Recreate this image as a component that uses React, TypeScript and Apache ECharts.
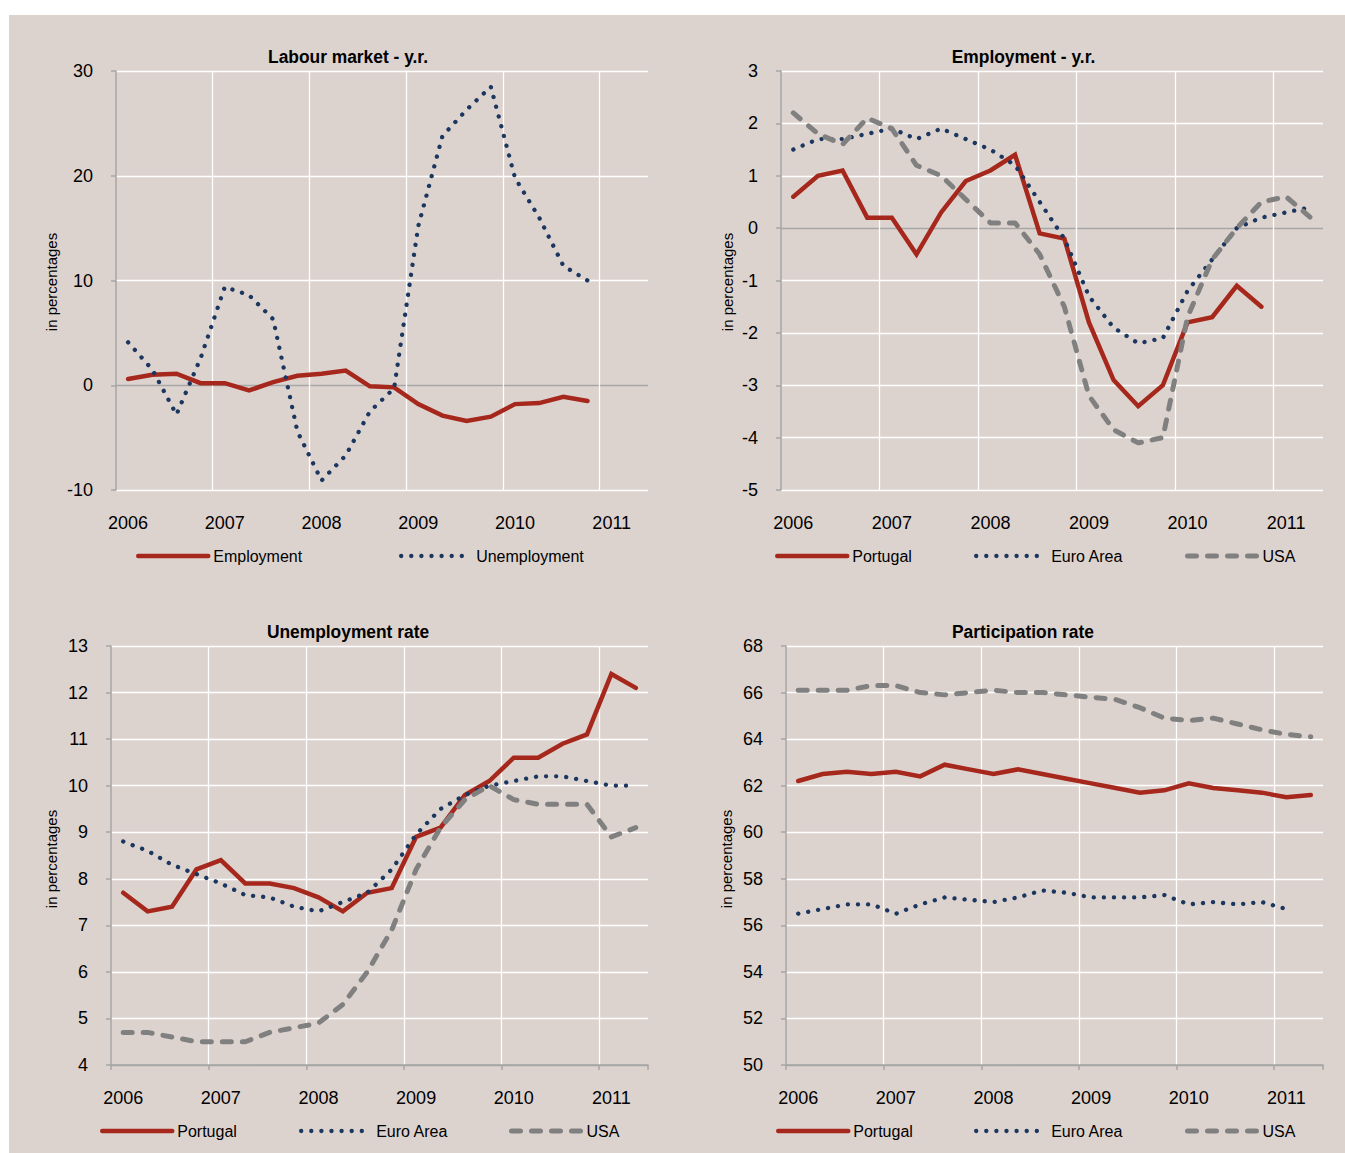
import React, { useEffect, useRef } from "react";
import * as echarts from "echarts";

// ---------- data ----------
const CATEGORIES = [
  "2006 Q1", "2006 Q2", "2006 Q3", "2006 Q4",
  "2007 Q1", "2007 Q2", "2007 Q3", "2007 Q4",
  "2008 Q1", "2008 Q2", "2008 Q3", "2008 Q4",
  "2009 Q1", "2009 Q2", "2009 Q3", "2009 Q4",
  "2010 Q1", "2010 Q2", "2010 Q3", "2010 Q4",
  "2011 Q1", "2011 Q2",
];

const PANEL_TITLES = ["Labour market - y.r.", "Employment - y.r.", "Unemployment rate", "Participation rate"];
const Y_NAME = "in percentages";

// Labour market - y.r.
const LM_EMPLOYMENT = [0.6, 1.0, 1.1, 0.2, 0.2, -0.5, 0.3, 0.9, 1.1, 1.4, -0.1, -0.2, -1.8, -2.9, -3.4, -3.0, -1.8, -1.7, -1.1, -1.5];
const LM_UNEMPLOYMENT = [4.1, 1.5, -2.8, 2.6, 9.4, 8.6, 6.3, -4.4, -9.1, -6.7, -2.5, -0.3, 15.2, 23.8, 26.3, 28.5, 19.8, 16.0, 11.4, 10.0];

// Employment - y.r.
const EMP_PORTUGAL = [0.6, 1.0, 1.1, 0.2, 0.2, -0.5, 0.3, 0.9, 1.1, 1.4, -0.1, -0.2, -1.8, -2.9, -3.4, -3.0, -1.8, -1.7, -1.1, -1.5];
const EMP_EURO = [1.5, 1.7, 1.7, 1.8, 1.9, 1.7, 1.9, 1.7, 1.5, 1.2, 0.5, -0.2, -1.3, -1.9, -2.2, -2.1, -1.2, -0.6, 0.0, 0.2, 0.3, 0.4];
const EMP_USA = [2.2, 1.8, 1.6, 2.1, 1.9, 1.2, 1.0, 0.55, 0.1, 0.1, -0.5, -1.5, -3.2, -3.85, -4.1, -4.0, -1.7, -0.6, 0.0, 0.5, 0.6, 0.2];

// Unemployment rate
const UR_PORTUGAL = [7.7, 7.3, 7.4, 8.2, 8.4, 7.9, 7.9, 7.8, 7.6, 7.3, 7.7, 7.8, 8.9, 9.1, 9.8, 10.1, 10.6, 10.6, 10.9, 11.1, 12.4, 12.1];
const UR_EURO = [8.8, 8.6, 8.3, 8.1, 7.9, 7.65, 7.6, 7.4, 7.3, 7.5, 7.7, 8.2, 8.95, 9.5, 9.8, 10.0, 10.1, 10.2, 10.2, 10.1, 10.0, 10.0];
const UR_USA = [4.7, 4.7, 4.6, 4.5, 4.5, 4.5, 4.7, 4.8, 4.9, 5.3, 6.0, 6.9, 8.2, 9.1, 9.7, 10.0, 9.7, 9.6, 9.6, 9.6, 8.9, 9.1];

// Participation rate
const PR_PORTUGAL = [62.2, 62.5, 62.6, 62.5, 62.6, 62.4, 62.9, 62.7, 62.5, 62.7, 62.5, 62.3, 62.1, 61.9, 61.7, 61.8, 62.1, 61.9, 61.8, 61.7, 61.5, 61.6];
const PR_EURO = [56.5, 56.7, 56.9, 56.9, 56.5, 56.9, 57.2, 57.1, 57.0, 57.2, 57.5, 57.4, 57.2, 57.2, 57.2, 57.3, 56.9, 57.0, 56.9, 57.0, 56.7];
const PR_USA = [66.1, 66.1, 66.1, 66.3, 66.3, 66.0, 65.9, 66.0, 66.1, 66.0, 66.0, 65.9, 65.8, 65.7, 65.35, 64.9, 64.8, 64.9, 64.65, 64.4, 64.2, 64.1];

// ---------- styles ----------
const FONT = '"Liberation Sans", Arial, Helvetica, sans-serif';
const RED = "#A6281D";
const NAVY = "#1B365F";
const GRAY = "#808080";
const AXIS = "#A6A6A6";
const BG = "#DDD3CE";
const WHITE = "#FFFFFF";
const NONE = "rgba(0,0,0,0)";

const SOLID = { color: RED, width: 4.5, type: "solid" as const, cap: "round" as const, join: "miter" as const };
const DOTTED = { color: NAVY, width: 4.3, type: [0.1, 10], cap: "round" as const, join: "round" as const };
const DASHED = { color: GRAY, width: 5, type: [9, 11], cap: "round" as const, join: "round" as const };

const GRIDS = [
  { left: 116, top: 71, width: 532, height: 419 },
  { left: 781, top: 71, width: 542, height: 419 },
  { left: 111, top: 646, width: 537, height: 419 },
  { left: 786, top: 646, width: 537, height: 419 },
];

function xAxis(gridIndex: number, showLine: boolean) {
  return {
    type: "category",
    gridIndex,
    data: CATEGORIES,
    boundaryGap: true,
    position: "bottom",
    axisLine: { show: showLine, onZero: false, lineStyle: { color: AXIS, width: 1.5 } },
    axisTick: { show: showLine, interval: 3, length: 5, inside: false, lineStyle: { color: AXIS, width: 1.5 } },
    axisLabel: {
      interval: 3,
      formatter: (v: string) => v.slice(0, 4),
      fontSize: 18,
      color: "#000",
      fontFamily: FONT,
      margin: 24,
    },
    splitLine: {
      show: true,
      interval: 3,
      lineStyle: { color: [NONE, WHITE, WHITE, WHITE, WHITE, WHITE, NONE], width: 1.3 },
    },
  };
}

function yAxis(gridIndex: number, min: number, max: number, interval: number, colors: string[]) {
  return {
    type: "value",
    gridIndex,
    min,
    max,
    interval,
    axisLine: { show: true, onZero: false, lineStyle: { color: AXIS, width: 1.5 } },
    axisTick: { show: true, length: 5, inside: false, lineStyle: { color: AXIS, width: 1.5 } },
    axisLabel: { fontSize: 18, color: "#000", fontFamily: FONT, margin: 23 },
    splitLine: { show: true, lineStyle: { color: colors, width: 1.3 } },
  };
}

function line(name: string, idx: number, data: number[], style: any) {
  return {
    type: "line",
    name,
    xAxisIndex: idx,
    yAxisIndex: idx,
    data,
    symbol: "none",
    showSymbol: false,
    lineStyle: style,
    itemStyle: { color: style.color },
    silent: true,
    emphasis: { disabled: true },
    animation: false,
  };
}

function legendItem(name: string, left: number, top: number, style: any) {
  return {
    show: true,
    data: [name],
    left,
    top,
    padding: 0,
    itemWidth: 70,
    itemHeight: 14,
    itemGap: 0,
    selectedMode: false,
    textStyle: { fontSize: 16, color: "#000", fontFamily: FONT },
    itemStyle: { opacity: 0, borderWidth: 0 },
    lineStyle: { width: style.width, type: style.type, cap: style.cap, color: style.color },
  };
}

function title(text: string, x: number, y: number) {
  return {
    type: "text",
    x,
    y,
    scaleX: 0.94,
    silent: true,
    style: {
      text,
      font: `bold 18.5px ${FONT}`,
      fill: "#000",
      textAlign: "center",
      textVerticalAlign: "middle",
      align: "center",
      verticalAlign: "middle",
    },
  };
}

function yName(x: number, y: number) {
  return {
    type: "text",
    x,
    y,
    rotation: Math.PI / 2,
    silent: true,
    style: {
      text: Y_NAME,
      font: `15px ${FONT}`,
      fill: "#000",
      textAlign: "center",
      textVerticalAlign: "middle",
      align: "center",
      verticalAlign: "middle",
    },
  };
}

const W = (n: number) => Array.from({ length: n }, () => WHITE);

export default function App() {
  const ref = useRef<HTMLDivElement>(null);

  useEffect(() => {
    if (!ref.current) return;
    const chart = echarts.init(ref.current, null, { renderer: "svg" });
    const p1Colors = [WHITE, AXIS, WHITE, WHITE, WHITE];
    const p2Colors = [WHITE, WHITE, WHITE, WHITE, WHITE, AXIS, WHITE, WHITE, WHITE];
    const p34Colors = [AXIS, ...W(9)];

    chart.setOption({
      animation: false,
      backgroundColor: "transparent",
      textStyle: { fontFamily: FONT },
      grid: GRIDS.map((g) => ({ ...g, containLabel: false })),
      xAxis: [xAxis(0, false), xAxis(1, false), xAxis(2, true), xAxis(3, true)],
      yAxis: [
        yAxis(0, -10, 30, 10, p1Colors),
        yAxis(1, -5, 3, 1, p2Colors),
        yAxis(2, 4, 13, 1, p34Colors),
        yAxis(3, 50, 68, 2, p34Colors),
      ],
      series: [
        line("Employment", 0, LM_EMPLOYMENT, SOLID),
        line("Unemployment", 0, LM_UNEMPLOYMENT, DOTTED),
        line("Portugal", 1, EMP_PORTUGAL, SOLID),
        line("Euro Area", 1, EMP_EURO, DOTTED),
        line("USA", 1, EMP_USA, DASHED),
        line("Portugal", 2, UR_PORTUGAL, SOLID),
        line("Euro Area", 2, UR_EURO, DOTTED),
        line("USA", 2, UR_USA, DASHED),
        line("Portugal", 3, PR_PORTUGAL, SOLID),
        line("Euro Area", 3, PR_EURO, DOTTED),
        line("USA", 3, PR_USA, DASHED),
      ],
      legend: [
        legendItem("Employment", 136, 548, SOLID),
        legendItem("Unemployment", 399, 548, DOTTED),
        legendItem("Portugal", 775, 548, SOLID),
        legendItem("Euro Area", 974, 548, DOTTED),
        legendItem("USA", 1185, 548, DASHED),
        legendItem("Portugal", 100, 1123, SOLID),
        legendItem("Euro Area", 299, 1123, DOTTED),
        legendItem("USA", 509, 1123, DASHED),
        legendItem("Portugal", 776, 1123, SOLID),
        legendItem("Euro Area", 974, 1123, DOTTED),
        legendItem("USA", 1185, 1123, DASHED),
      ],
      graphic: [
        title(PANEL_TITLES[0], 348, 57.2),
        title(PANEL_TITLES[1], 1023.5, 57.2),
        title(PANEL_TITLES[2], 348, 631.5),
        title(PANEL_TITLES[3], 1023, 631.5),
        yName(51, 282),
        yName(727, 282),
        yName(51.5, 859),
        yName(726.5, 859),
      ],
    });
    return () => chart.dispose();
  }, []);

  return (
    <div style={{ position: "absolute", left: 0, top: 0, width: 1345, height: 1153, background: "#fff", overflow: "hidden" }}>
      <div style={{ position: "absolute", left: 9, top: 15, right: 0, bottom: 0, background: BG }} />
      <div ref={ref} style={{ position: "absolute", left: 0, top: 0, width: 1345, height: 1153 }} />
    </div>
  );
}
